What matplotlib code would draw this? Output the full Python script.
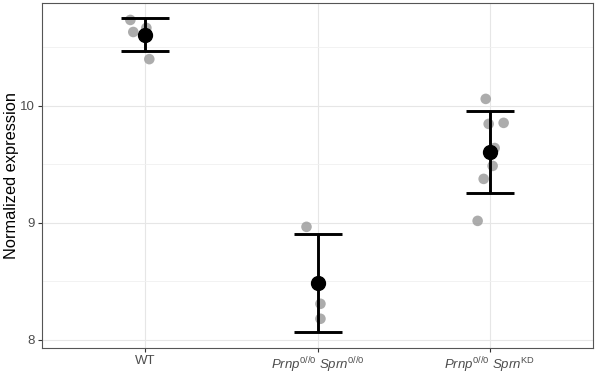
import matplotlib
matplotlib.use("Agg")
import matplotlib.pyplot as plt
import numpy as np

plt.rcParams['font.family'] = ['Liberation Sans', 'DejaVu Sans']
plt.rcParams['mathtext.fontset'] = 'custom'
plt.rcParams['mathtext.rm'] = 'Liberation Sans'
plt.rcParams['mathtext.it'] = 'Liberation Sans:italic'

# group labels
groups = ['WT',
          r'$\mathit{Prnp}^{\mathrm{0//0}}\ \mathit{Sprn}^{\mathrm{0//0}}$',
          r'$\mathit{Prnp}^{\mathrm{0//0}}\ \mathit{Sprn}^{\mathrm{KD}}$']

# summary (mean with error bar limits)
means = [10.607, 8.487, 9.607]
err_low = [10.47, 8.068, 9.256]
err_high = [10.752, 8.906, 9.957]

# individual samples: values and jitter offsets
wt_vals = [10.735, 10.632, 10.667, 10.40]
wt_jit = [-0.087, -0.07, 0.006, 0.023]
ko_vals = [8.966, 8.308, 8.18]
ko_jit = [-0.064, 0.017, 0.017]
kd_vals = [10.06, 9.846, 9.855, 9.64, 9.487, 9.376, 9.017]
kd_jit = [-0.023, -0.006, 0.081, 0.029, 0.017, -0.035, -0.07]

fig = plt.figure(figsize=(5.97, 3.74), dpi=100)
ax = fig.add_axes([0.0704, 0.0695, 0.9229, 0.9225])

# points
for i, (vals, jit) in enumerate([(wt_vals, wt_jit), (ko_vals, ko_jit), (kd_vals, kd_jit)]):
    x = np.array(jit) + i + 1
    ax.scatter(x, vals, s=58, color='#9e9e9e', alpha=0.85, edgecolors='none', zorder=3)

xpos = np.arange(1, len(groups) + 1)
lo = np.array(means) - np.array(err_low)
hi = np.array(err_high) - np.array(means)
ax.errorbar(xpos, means, yerr=[lo, hi], fmt='none', ecolor='black',
            elinewidth=2.1, capsize=17, capthick=2.1, zorder=4)
ax.scatter(xpos, means, s=100, color='black', zorder=5)

ax.set_xlim(0.4, 3.6)
ax.set_ylim(7.93, 10.88)
ax.set_xticks(xpos)
ax.set_xticklabels(groups, fontsize=9.6)
ax.set_yticks([8, 9, 10])
ax.set_yticks([8.5, 9.5, 10.5], minor=True)
ax.tick_params(axis='y', which='minor', length=0)
ax.tick_params(axis='both', which='major', length=3, width=0.8, color='#333333',
               labelsize=9.5, labelcolor='#4d4d4d', pad=2)
ax.grid(True, which='major', color='#e6e6e6', linewidth=0.8)
ax.grid(True, which='minor', axis='y', color='#f0f0f0', linewidth=0.6)
ax.set_axisbelow(True)
for s in ax.spines.values():
    s.set_color('#555555')
    s.set_linewidth(0.8)

ax.set_ylabel('Normalized expression', fontsize=11.8, labelpad=1)

fig.savefig('out.png', dpi=100)
